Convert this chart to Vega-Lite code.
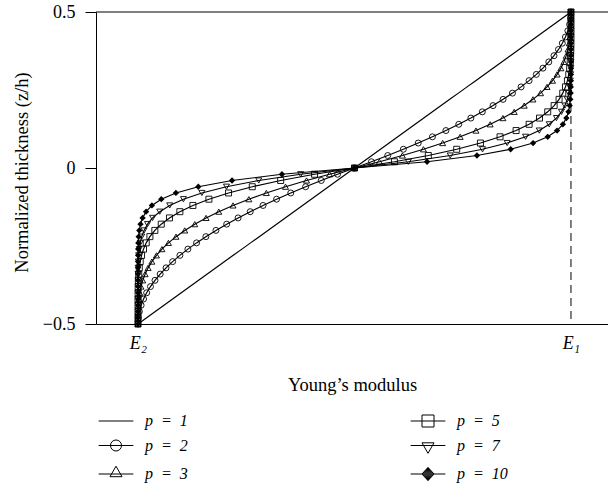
{
  "$schema": "https://vega.github.io/schema/vega-lite/v6.json",
  "width": 512,
  "height": 312,
  "autosize": {"type": "none"},
  "padding": {"left": 96, "top": 12, "right": 0, "bottom": 164},
  "background": "white",
  "config": {
    "view": {"stroke": null},
    "font": "Liberation Serif, Times New Roman, DejaVu Serif, serif",
    "axis": {
      "grid": false,
      "domainColor": "black",
      "domainWidth": 1,
      "tickColor": "black",
      "tickWidth": 1,
      "labelColor": "black",
      "titleColor": "black",
      "labelFont": "Liberation Serif, Times New Roman, DejaVu Serif, serif",
      "titleFont": "Liberation Serif, Times New Roman, DejaVu Serif, serif",
      "labelFontSize": 18,
      "titleFontSize": 18.5,
      "titleFontWeight": "normal"
    },
    "legend": {
      "labelFont": "Liberation Serif, Times New Roman, DejaVu Serif, serif",
      "labelFontWeight": "normal"
    }
  },
  "datasets": {
    "profile": [
      {"z": -0.5, "p1": 0, "p2": 0, "p3": 0, "p5": 0, "p7": 0, "p10": 0},
      {"z": -0.48, "p1": 0.02, "p2": 0.0008, "p3": 0.00003, "p5": 0, "p7": 0, "p10": 0},
      {"z": -0.46, "p1": 0.04, "p2": 0.0032, "p3": 0.00026, "p5": 0, "p7": 0, "p10": 0},
      {"z": -0.44, "p1": 0.06, "p2": 0.0072, "p3": 0.00086, "p5": 0.00001, "p7": 0, "p10": 0},
      {"z": -0.42, "p1": 0.08, "p2": 0.0128, "p3": 0.00205, "p5": 0.00005, "p7": 0, "p10": 0},
      {"z": -0.4, "p1": 0.1, "p2": 0.02, "p3": 0.004, "p5": 0.00016, "p7": 0.00001, "p10": 0},
      {"z": -0.38, "p1": 0.12, "p2": 0.0288, "p3": 0.0069, "p5": 0.0004, "p7": 0.00002, "p10": 0},
      {"z": -0.36, "p1": 0.14, "p2": 0.0392, "p3": 0.011, "p5": 0.00086, "p7": 0.00007, "p10": 0},
      {"z": -0.34, "p1": 0.16, "p2": 0.0512, "p3": 0.0164, "p5": 0.0017, "p7": 0.00017, "p10": 0.00001},
      {"z": -0.32, "p1": 0.18, "p2": 0.0648, "p3": 0.0233, "p5": 0.003, "p7": 0.00039, "p10": 0.00002},
      {"z": -0.3, "p1": 0.2, "p2": 0.08, "p3": 0.032, "p5": 0.0051, "p7": 0.00082, "p10": 0.00005},
      {"z": -0.28, "p1": 0.22, "p2": 0.0968, "p3": 0.0426, "p5": 0.0082, "p7": 0.0016, "p10": 0.00014},
      {"z": -0.26, "p1": 0.24, "p2": 0.1152, "p3": 0.0553, "p5": 0.0127, "p7": 0.0029, "p10": 0.00032},
      {"z": -0.24, "p1": 0.26, "p2": 0.1352, "p3": 0.0703, "p5": 0.019, "p7": 0.0051, "p10": 0.00072},
      {"z": -0.22, "p1": 0.28, "p2": 0.1568, "p3": 0.0878, "p5": 0.0275, "p7": 0.0086, "p10": 0.0015},
      {"z": -0.2, "p1": 0.3, "p2": 0.18, "p3": 0.108, "p5": 0.0389, "p7": 0.014, "p10": 0.003},
      {"z": -0.18, "p1": 0.32, "p2": 0.2048, "p3": 0.1311, "p5": 0.0537, "p7": 0.022, "p10": 0.0058},
      {"z": -0.16, "p1": 0.34, "p2": 0.2312, "p3": 0.1572, "p5": 0.0727, "p7": 0.0336, "p10": 0.0106},
      {"z": -0.14, "p1": 0.36, "p2": 0.2592, "p3": 0.1866, "p5": 0.0967, "p7": 0.0502, "p10": 0.0187},
      {"z": -0.12, "p1": 0.38, "p2": 0.2888, "p3": 0.2195, "p5": 0.1268, "p7": 0.0732, "p10": 0.0321},
      {"z": -0.1, "p1": 0.4, "p2": 0.32, "p3": 0.256, "p5": 0.1638, "p7": 0.1049, "p10": 0.0537},
      {"z": -0.08, "p1": 0.42, "p2": 0.3528, "p3": 0.2964, "p5": 0.2091, "p7": 0.1475, "p10": 0.0875},
      {"z": -0.06, "p1": 0.44, "p2": 0.3872, "p3": 0.3407, "p5": 0.2639, "p7": 0.2043, "p10": 0.1393},
      {"z": -0.04, "p1": 0.46, "p2": 0.4232, "p3": 0.3893, "p5": 0.3295, "p7": 0.2789, "p10": 0.2172},
      {"z": -0.02, "p1": 0.48, "p2": 0.4608, "p3": 0.4424, "p5": 0.4077, "p7": 0.3757, "p10": 0.3324},
      {"z": 0, "p1": 0.5, "p2": 0.5, "p3": 0.5, "p5": 0.5, "p7": 0.5, "p10": 0.5},
      {"z": 0.02, "p1": 0.52, "p2": 0.5392, "p3": 0.5576, "p5": 0.5923, "p7": 0.6243, "p10": 0.6676},
      {"z": 0.04, "p1": 0.54, "p2": 0.5768, "p3": 0.6107, "p5": 0.6705, "p7": 0.7211, "p10": 0.7828},
      {"z": 0.06, "p1": 0.56, "p2": 0.6128, "p3": 0.6593, "p5": 0.7361, "p7": 0.7957, "p10": 0.8607},
      {"z": 0.08, "p1": 0.58, "p2": 0.6472, "p3": 0.7036, "p5": 0.7909, "p7": 0.8525, "p10": 0.9125},
      {"z": 0.1, "p1": 0.6, "p2": 0.68, "p3": 0.744, "p5": 0.8362, "p7": 0.8951, "p10": 0.9463},
      {"z": 0.12, "p1": 0.62, "p2": 0.7112, "p3": 0.7805, "p5": 0.8732, "p7": 0.9268, "p10": 0.9679},
      {"z": 0.14, "p1": 0.64, "p2": 0.7408, "p3": 0.8134, "p5": 0.9033, "p7": 0.9498, "p10": 0.9813},
      {"z": 0.16, "p1": 0.66, "p2": 0.7688, "p3": 0.8428, "p5": 0.9273, "p7": 0.9664, "p10": 0.9894},
      {"z": 0.18, "p1": 0.68, "p2": 0.7952, "p3": 0.8689, "p5": 0.9463, "p7": 0.978, "p10": 0.9942},
      {"z": 0.2, "p1": 0.7, "p2": 0.82, "p3": 0.892, "p5": 0.9611, "p7": 0.986, "p10": 0.997},
      {"z": 0.22, "p1": 0.72, "p2": 0.8432, "p3": 0.9122, "p5": 0.9725, "p7": 0.9914, "p10": 0.9985},
      {"z": 0.24, "p1": 0.74, "p2": 0.8648, "p3": 0.9297, "p5": 0.981, "p7": 0.9949, "p10": 0.99928},
      {"z": 0.26, "p1": 0.76, "p2": 0.8848, "p3": 0.9447, "p5": 0.9873, "p7": 0.9971, "p10": 0.99968},
      {"z": 0.28, "p1": 0.78, "p2": 0.9032, "p3": 0.9574, "p5": 0.9918, "p7": 0.9984, "p10": 0.99986},
      {"z": 0.3, "p1": 0.8, "p2": 0.92, "p3": 0.968, "p5": 0.9949, "p7": 0.99918, "p10": 0.99995},
      {"z": 0.32, "p1": 0.82, "p2": 0.9352, "p3": 0.9767, "p5": 0.997, "p7": 0.99961, "p10": 0.99998},
      {"z": 0.34, "p1": 0.84, "p2": 0.9488, "p3": 0.9836, "p5": 0.9983, "p7": 0.99983, "p10": 0.99999},
      {"z": 0.36, "p1": 0.86, "p2": 0.9608, "p3": 0.989, "p5": 0.99914, "p7": 0.99993, "p10": 1},
      {"z": 0.38, "p1": 0.88, "p2": 0.9712, "p3": 0.9931, "p5": 0.9996, "p7": 0.99998, "p10": 1},
      {"z": 0.4, "p1": 0.9, "p2": 0.98, "p3": 0.996, "p5": 0.99984, "p7": 0.99999, "p10": 1},
      {"z": 0.42, "p1": 0.92, "p2": 0.9872, "p3": 0.99795, "p5": 0.99995, "p7": 1, "p10": 1},
      {"z": 0.44, "p1": 0.94, "p2": 0.9928, "p3": 0.99914, "p5": 0.99999, "p7": 1, "p10": 1},
      {"z": 0.46, "p1": 0.96, "p2": 0.9968, "p3": 0.99974, "p5": 1, "p7": 1, "p10": 1},
      {"z": 0.48, "p1": 0.98, "p2": 0.9992, "p3": 0.99997, "p5": 1, "p7": 1, "p10": 1},
      {"z": 0.5, "p1": 1, "p2": 1, "p3": 1, "p5": 1, "p7": 1, "p10": 1}
    ]
  },
  "layer": [
    {
      "data": {"values": [{}]},
      "mark": {"type": "rule", "color": "black", "strokeWidth": 1},
      "encoding": {"y": {"datum": 0.5, "type": "quantitative"}}
    },
    {
      "data": {"values": [{}]},
      "mark": {"type": "rule", "color": "black", "strokeWidth": 1, "strokeDash": [8, 5]},
      "encoding": {"x": {"datum": 1, "type": "quantitative"}}
    },
    {
      "data": {"name": "profile"},
      "transform": [{"fold": ["p1", "p2", "p3", "p5", "p7", "p10"], "as": ["p", "E"]}],
      "mark": {"type": "line", "color": "black", "strokeWidth": 1.2},
      "encoding": {
        "x": {
          "field": "E",
          "type": "quantitative",
          "scale": {"domain": [-0.097, 1.0855], "nice": false, "zero": false},
          "axis": {
            "values": [0, 1],
            "labelExpr": "datum.value == 0 ? 'E₂' : 'E₁'",
            "labelFontStyle": "italic",
            "ticks": false,
            "tickSize": 0,
            "labelPadding": 10,
            "labelFontSize": 18,
            "title": "Young’s modulus",
            "titleY": 60,
            "titleBaseline": "middle"
          }
        },
        "y": {
          "field": "z",
          "type": "quantitative",
          "scale": {"domain": [-0.5, 0.5], "nice": false},
          "axis": {
            "values": [-0.5, 0, 0.5],
            "format": ".1~f",
            "tickSize": 11,
            "labelPadding": 10,
            "title": "Normalized thickness (z/h)",
            "titleX": -75,
            "titleY": 160,
            "titleAngle": -90,
            "titleAlign": "center",
            "titleBaseline": "middle"
          }
        },
        "detail": {"field": "p", "type": "nominal"},
        "order": {"field": "z", "type": "quantitative"}
      }
    },
    {
      "data": {"name": "profile"},
      "transform": [
        {"fold": ["p2", "p3", "p5", "p7"], "as": ["p", "E"]}
      ],
      "mark": {"type": "point", "filled": false, "stroke": "black", "strokeWidth": 0.9, "size": 36, "opacity": 1},
      "encoding": {
        "x": {"field": "E", "type": "quantitative"},
        "y": {"field": "z", "type": "quantitative"},
        "shape": {
          "field": "p",
          "type": "nominal",
          "scale": {"domain": ["p2", "p3", "p5", "p7"], "range": ["circle", "triangle-up", "square", "triangle-down"]},
          "legend": null
        }
      }
    },
    {
      "data": {"name": "profile"},
      "transform": [
        {"fold": ["p10"], "as": ["p", "E"]}
      ],
      "mark": {"type": "point", "shape": "diamond", "filled": true, "color": "black", "size": 40, "opacity": 1},
      "encoding": {
        "x": {"field": "E", "type": "quantitative"},
        "y": {"field": "z", "type": "quantitative"}
      }
    },
    {
      "data": {"name": "profile"},
      "transform": [
        {"fold": ["p1", "p2", "p3", "p5", "p7", "p10"], "as": ["p", "E"]},
        {"filter": "datum.z == 0"}
      ],
      "mark": {"type": "point", "filled": false, "color": "black", "opacity": 0},
      "encoding": {
        "x": {"field": "E", "type": "quantitative"},
        "y": {"field": "z", "type": "quantitative"},
        "shape": {
          "field": "p",
          "type": "nominal",
          "scale": {
            "domain": ["p1", "p2", "p3", "p5", "p7", "p10"],
            "range": [
              "M-2.9,0H2.9",
              "M-2.9,0H2.9M0.92,0A0.92 0.92 0 1 1 -0.92,0A0.92 0.92 0 1 1 0.92,0",
              "M-2.9,0H2.9M0,-1.3L1,0.45L-1,0.45Z",
              "M-2.9,0H2.9M-1,-1H1V1H-1Z",
              "M-2.9,0H2.9M0,1.3L1,-0.45L-1,-0.45Z",
              "M-2.9,0H2.9M0,-1.1L1,0L0,1.1L-1,0ZM-0.86,-0.15H0.86M-0.86,0.15H0.86M-0.73,-0.3H0.73M-0.73,0.3H0.73M-0.59,-0.45H0.59M-0.59,0.45H0.59M-0.45,-0.6H0.45M-0.45,0.6H0.45M-0.32,-0.75H0.32M-0.32,0.75H0.32M-0.18,-0.9H0.18M-0.18,0.9H0.18M-0.08,-1H0.08M-0.08,1H0.08"
            ]
          },
          "legend": {
            "title": null,
            "orient": "none",
            "legendX": 12,
            "legendY": 401,
            "columns": 2,
            "columnPadding": 220,
            "rowPadding": 8.5,
            "padding": 0,
            "symbolSize": 144,
            "symbolStrokeWidth": 1,
            "symbolStrokeColor": "black",
            "symbolFillColor": "transparent",
            "symbolOpacity": 1,
            "labelFontSize": 16,
            "labelFontStyle": "italic",
            "labelColor": "black",
            "labelOffset": 21,
            "labelExpr": "'p\u2002=\u2002' + substring(datum.label, 1)",
            "encode": {
              "symbols": {
                "stroke": {"value": "black"},
                "strokeWidth": {"value": 1},
                "opacity": {"value": 1}
              }
            }
          }
        }
      }
    }
  ],
  "resolve": {"scale": {"shape": "independent"}}
}
